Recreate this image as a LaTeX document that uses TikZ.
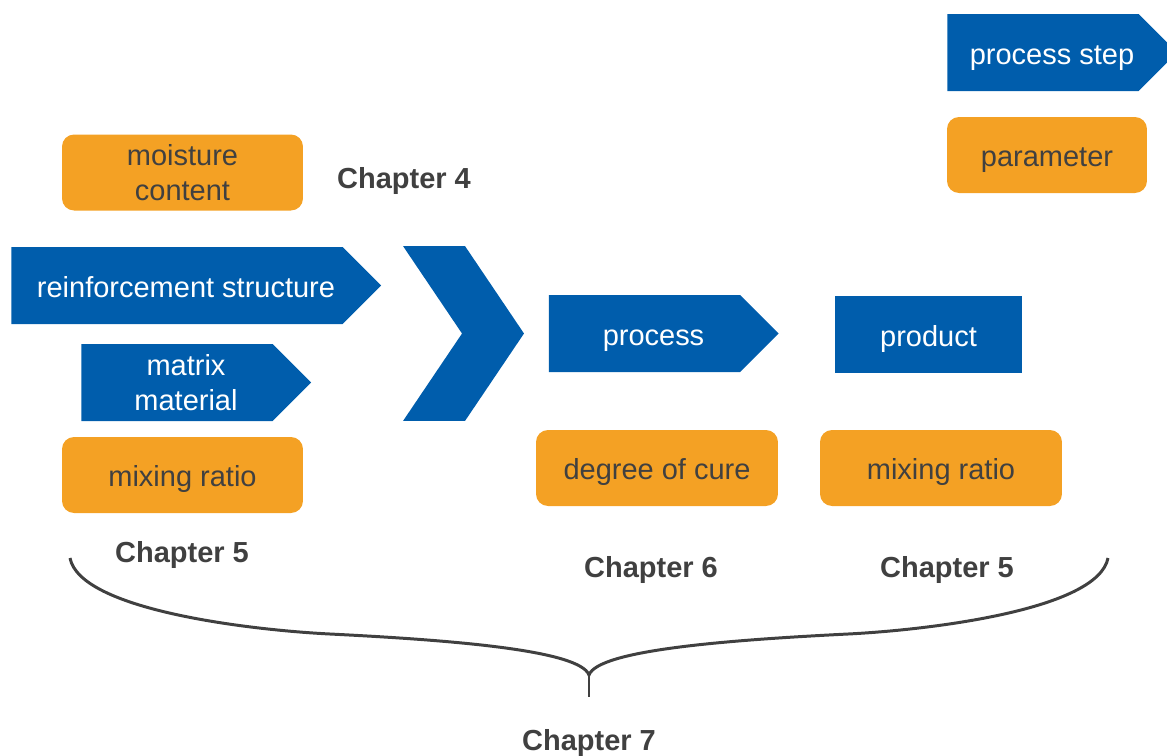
\documentclass[tikz,border=0pt]{standalone}
\usepackage{fontspec}
\setmainfont{Liberation Sans}
\usepackage{tikz}
\usetikzlibrary{shapes, arrows.meta, positioning}
\definecolor{stepblue}{RGB}{0,93,172}
\definecolor{paramorange}{RGB}{244,161,36}
\definecolor{textgray}{RGB}{64,64,64}
\newcommand{\txtsize}{\fontsize{16.5}{19.5}\selectfont}
\newcommand{\tipgap}{\hspace*{0.36cm}}
\tikzstyle{stepbox} = [signal, signal to=east, signal pointer angle=90, fill=stepblue, text=white, minimum height=1.54cm, inner sep=0pt, align=center, execute at begin node=\tipgap]
\tikzstyle{parambox} = [rectangle, rounded corners=0.24cm, fill=paramorange, text=textgray, minimum height=1.52cm, inner sep=0pt, align=center]
\tikzstyle{chapter} = [text=textgray, font=\txtsize\bfseries]
\tikzstyle{oneline} = [text height=13.6pt, text depth=0.5pt]

\begin{document}
\begin{tikzpicture}[x=0.02cm, y=-0.02cm, font=\txtsize]
  \useasboundingbox (0,0) rectangle (1167,755);
  % legend
  \node[stepbox, oneline, minimum width=4.6cm] (legstep) at (1043,52.5) {process step};
  \node[parambox, oneline, minimum width=4.0cm] (legparam) at (1047,155) {parameter};
  % inputs
  \node[parambox, minimum width=4.82cm] (moisture) at (182.5,172.5) {moisture\\content};
  \node[chapter, oneline] (ch4) at (404,177) {Chapter 4};
  \node[stepbox, oneline, minimum width=7.4cm] (reinf) at (177,285.5) {reinforcement structure};
  \node[stepbox, minimum width=4.6cm] (matrix) at (177,382.5) {matrix\\material};
  \node[parambox, oneline, minimum width=4.82cm] (mixin) at (182.5,475) {mixing ratio};
  \node[chapter, oneline] (ch5a) at (182,551) {Chapter 5};
  % chevron
  \node[signal, signal from=west, signal to=east, signal pointer angle=112,
        fill=stepblue, minimum width=2.42cm, minimum height=3.5cm, inner sep=0pt] (chevron) at (463.5,333.5) {};
  % process and product
  \node[stepbox, oneline, minimum width=4.6cm] (process) at (644.5,333.5) {process};
  \node[rectangle, oneline, fill=stepblue, text=white, minimum width=3.74cm, minimum height=1.54cm, inner sep=0pt] (product) at (928.5,334.5) {product};
  \node[parambox, oneline, minimum width=4.84cm] (cure) at (657,468) {degree of cure};
  \node[parambox, oneline, minimum width=4.84cm] (mixout) at (941,468) {mixing ratio};
  \node[chapter, oneline] (ch6) at (651,566) {Chapter 6};
  \node[chapter, oneline] (ch5b) at (947,566) {Chapter 5};
  % brace
  \coordinate (brtip) at (589,697);
  \draw[textgray, line width=1.7pt]
    (70,558) .. controls (80,610) and (250,630) .. (330,634)
    .. controls (450,640) and (580,650) .. (589,675)
    .. controls (598,650) and (728,640) .. (848,634)
    .. controls (928,630) and (1098,610) .. (1108,558);
  \draw[textgray, line width=1.7pt] (589,675) -- (brtip);
  \node[chapter, oneline] (ch7) at (589,739) {Chapter 7};
\end{tikzpicture}
\end{document}
